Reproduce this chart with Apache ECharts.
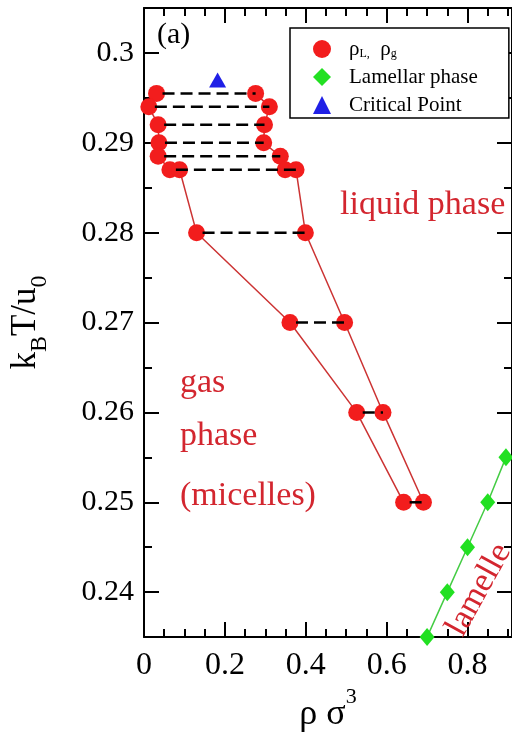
<!DOCTYPE html>
<html><head><meta charset="utf-8">
<script src="https://cdn.jsdelivr.net/npm/echarts@6/dist/echarts.min.js"></script>
<style>html,body{margin:0;padding:0;background:#fff;overflow:hidden}#c{width:512px;height:738px}</style>
</head><body><div id="c"></div>
<script>
// ---- data ----
const gasT = [0.2955, 0.294, 0.292, 0.290, 0.2885, 0.287, 0.287, 0.280, 0.270, 0.260, 0.250];
const gasX = [0.031, 0.012, 0.035, 0.037, 0.035, 0.064, 0.088, 0.130, 0.361, 0.526, 0.642];
const liqT = [0.2955, 0.294, 0.292, 0.290, 0.2885, 0.287, 0.287, 0.280, 0.270, 0.260, 0.250];
const liqX = [0.276, 0.310, 0.298, 0.296, 0.337, 0.349, 0.376, 0.399, 0.496, 0.591, 0.691];
const tieT = [0.2955, 0.294, 0.292, 0.290, 0.2885, 0.287, 0.280, 0.270, 0.260, 0.250];
const tieLeft = [0.031, 0.012, 0.035, 0.037, 0.035, 0.064, 0.130, 0.361, 0.526, 0.642];
const tieRight = [0.276, 0.310, 0.298, 0.296, 0.337, 0.376, 0.399, 0.496, 0.591, 0.691];
const lamX = [0.70, 0.75, 0.80, 0.85, 0.895];
const lamT = [0.235, 0.240, 0.245, 0.250, 0.255];
const critX = [0.182];
const critT = [0.297];
const xMajor = [0, 0.2, 0.4, 0.6, 0.8];
const xMinor = [0.05, 0.1, 0.15, 0.25, 0.3, 0.35, 0.45, 0.5, 0.55, 0.65, 0.7, 0.75, 0.85, 0.9];
const yMajor = [0.24, 0.25, 0.26, 0.27, 0.28, 0.29, 0.30];
const yMinor = [0.245, 0.255, 0.265, 0.275, 0.285, 0.295];
const legendNames = ['rho', 'Lamellar phase', 'Critical Point'];

const RED = '#f21d1d', REDLINE = '#cc3333', TXTRED = '#d3262f';
const SERIF = 'Liberation Serif';
const X_MIN = 0, X_MAX = 0.91, Y_MIN = 0.235, Y_MAX = 0.305;

function axisCommon(vals, len, showLine, label) {
  return {
    type: 'value', min: null, max: null,
    axisLine: { show: showLine, onZero: false, lineStyle: { color: '#000', width: 2 } },
    axisTick: { show: true, inside: true, length: len, customValues: vals, lineStyle: { color: '#000', width: 2 } },
    axisLabel: label || { show: false },
    splitLine: { show: false }, minorTick: { show: false }, minorSplitLine: { show: false }
  };
}
function xAx(pos, vals, len, showLine, label) {
  const a = axisCommon(vals, len, showLine, label); a.position = pos; a.min = X_MIN; a.max = X_MAX; return a;
}
function yAx(pos, vals, len, showLine, label) {
  const a = axisCommon(vals, len, showLine, label); a.position = pos; a.min = Y_MIN; a.max = Y_MAX; return a;
}

const xMain = xAx('bottom', xMajor, 15, true, {
  show: true, customValues: xMajor, margin: 12, color: '#000', fontFamily: SERIF, fontSize: 32,
  formatter: v => String(+v.toFixed(2))
});
xMain.name = '{m|ρ σ}{s|3}';
xMain.nameLocation = 'middle';
xMain.nameGap = 46;
xMain.nameTextStyle = { rich: {
  m: { fontFamily: SERIF, fontSize: 36, lineHeight: 58, color: '#000' },
  s: { fontFamily: SERIF, fontSize: 22, lineHeight: 22, verticalAlign: 'top', color: '#000' }
}};

const yMain = yAx('left', yMajor, 15, true, {
  show: true, customValues: yMajor, margin: 10, color: '#000', fontFamily: SERIF, fontSize: 30,
  formatter: v => String(+v.toFixed(2))
});
yMain.name = '{m|k}{s|B}{m|T/u}{s|0}';
yMain.nameLocation = 'middle';
yMain.nameRotate = 90;
yMain.nameGap = 92;
yMain.nameTextStyle = { rich: {
  m: { fontFamily: SERIF, fontSize: 35, lineHeight: 34, verticalAlign: 'top', color: '#000' },
  s: { fontFamily: SERIF, fontSize: 24, lineHeight: 44, verticalAlign: 'bottom', color: '#000' }
}};

const series = [];
series.push({
  name: 'rho', type: 'line', xAxisIndex: 0, yAxisIndex: 0, clip: false, z: 3,
  data: gasX.map((x, i) => [x, gasT[i]]),
  symbol: 'circle', symbolSize: 17, itemStyle: { color: RED }, lineStyle: { color: REDLINE, width: 1.5 }
});
series.push({
  name: 'rho', type: 'line', xAxisIndex: 0, yAxisIndex: 0, clip: false, z: 3,
  data: liqX.map((x, i) => [x, liqT[i]]),
  symbol: 'circle', symbolSize: 17, itemStyle: { color: RED }, lineStyle: { color: REDLINE, width: 1.5 }
});
tieT.forEach((t, i) => {
  series.push({
    name: 'tie' + i, type: 'line', xAxisIndex: 0, yAxisIndex: 0, clip: false, z: 5, silent: true,
    data: [[tieLeft[i], t], [tieRight[i], t]], symbol: 'none',
    lineStyle: { color: '#000', width: 2.5, type: [12, 6], dashOffset: 12 }
  });
});
series.push({
  name: 'Lamellar phase', type: 'line', xAxisIndex: 0, yAxisIndex: 0, clip: false, z: 3,
  data: lamX.map((x, i) => [x, lamT[i]]),
  symbol: 'diamond', symbolSize: [15, 18], itemStyle: { color: '#22e022' }, lineStyle: { color: '#44cc44', width: 1.5 }
});
series.push({
  name: 'Critical Point', type: 'scatter', xAxisIndex: 0, yAxisIndex: 0, clip: false, z: 3,
  data: critX.map((x, i) => [x, critT[i]]),
  symbol: 'triangle', symbolSize: [17, 15], itemStyle: { color: '#2020e6', opacity: 1 }
});

const chart = echarts.init(document.getElementById('c'), null, { renderer: 'canvas' });
chart.setOption({
  animation: false,
  backgroundColor: '#fff',
  grid: { left: 144, top: 8, right: -4, bottom: 98, containLabel: false },
  xAxis: [
    xMain,
    xAx('bottom', xMinor, 8, false),
    xAx('top', xMajor, 15, true),
    xAx('top', xMinor, 8, false)
  ],
  yAxis: [
    yMain,
    yAx('left', yMinor, 8, false),
    yAx('right', yMajor, 15, true),
    yAx('right', yMinor, 8, false)
  ],
  legend: {
    data: [
      { name: legendNames[0], icon: 'circle', itemStyle: { opacity: 1 } },
      { name: legendNames[1], icon: 'diamond' },
      { name: legendNames[2], icon: 'triangle', itemStyle: { opacity: 1 } }
    ],
    orient: 'vertical', left: 290, top: 28,
    padding: [10, 31, 2, 23], itemGap: 6, itemWidth: 18, itemHeight: 18,
    borderColor: '#000', borderWidth: 1.5, backgroundColor: '#fff',
    selectedMode: false,
    formatter: n => n === 'rho' ? '{p| }{a|ρ}{b|L,}{a|  ρ}{b|g}' : '{p| }' + n,
    textStyle: { fontFamily: SERIF, fontSize: 21, color: '#000', lineHeight: 22,
      rich: {
        p: { width: 13, fontSize: 10, lineHeight: 22 },
        a: { fontFamily: SERIF, fontSize: 21, lineHeight: 22, color: '#000' },
        b: { fontFamily: SERIF, fontSize: 12, lineHeight: 22, verticalAlign: 'bottom', color: '#000' }
      }
    }
  },
  graphic: [
    { type: 'text', left: 157, top: 20, z: 10, style: { text: '(a)', font: '30px "Liberation Serif"', fill: '#000' } },
    { type: 'text', x: 340, y: 205, z: 10, style: { text: 'liquid phase', font: '34px "Liberation Serif"', fill: TXTRED, verticalAlign: 'middle', align: 'left' } },
    { type: 'text', x: 180, y: 383, z: 10, style: { text: 'gas', font: '34px "Liberation Serif"', fill: TXTRED, verticalAlign: 'middle' } },
    { type: 'text', x: 180, y: 436, z: 10, style: { text: 'phase', font: '34px "Liberation Serif"', fill: TXTRED, verticalAlign: 'middle' } },
    { type: 'text', x: 180, y: 496, z: 10, style: { text: '(micelles)', font: '34px "Liberation Serif"', fill: TXTRED, verticalAlign: 'middle' } },
    { type: 'text', x: 479, y: 590, rotation: 61 * Math.PI / 180, z: 10, style: { text: 'lamelle', font: '34px "Liberation Serif"', fill: TXTRED, verticalAlign: 'middle', align: 'center' } }
  ],
  series: series
});
</script></body></html>
